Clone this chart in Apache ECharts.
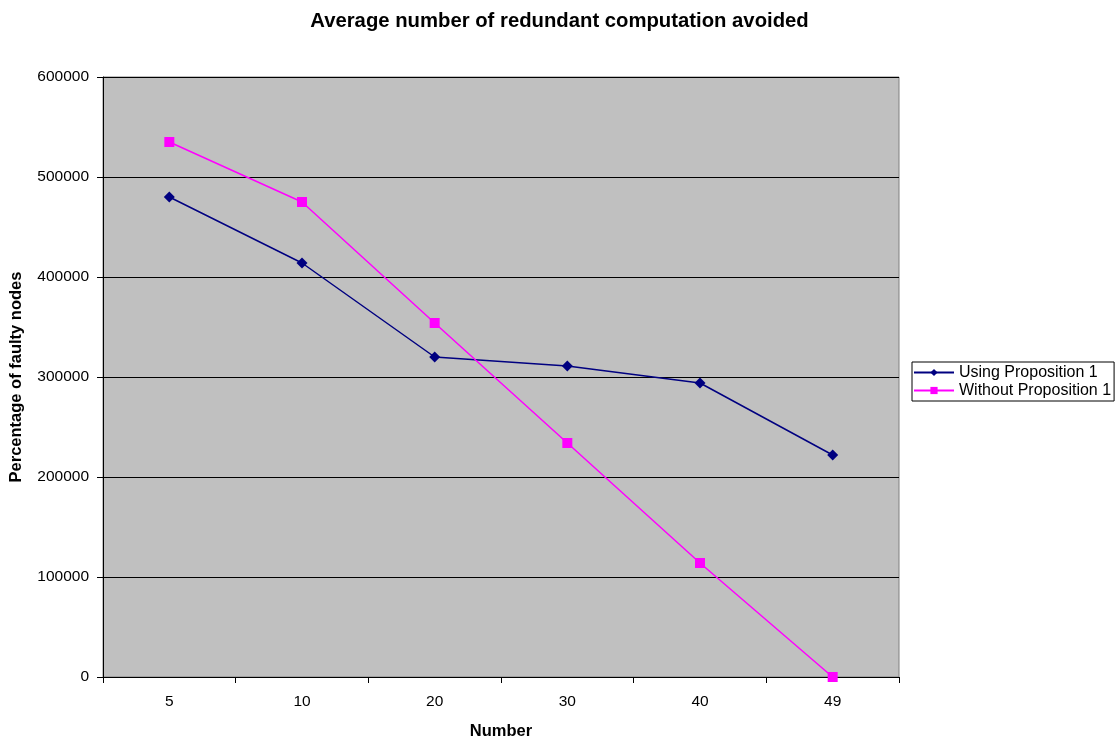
<!DOCTYPE html>
<html><head><meta charset="utf-8">
<script src="https://cdn.jsdelivr.net/npm/echarts@6/dist/echarts.min.js"></script>
<style>html,body{margin:0;padding:0;background:#fff}#c{width:1119px;height:742px}</style>
</head><body><div id="c"></div>
<script>
const categories = ['5', '10', '20', '30', '40', '49'];
const usingProp = [480000, 414000, 320000, 311000, 294000, 222000];
const withoutProp = [535000, 475000, 354000, 234000, 114000, 0];
const yTicks = [0, 100000, 200000, 300000, 400000, 500000, 600000];

const chart = echarts.init(document.getElementById('c'));
const font = 'Liberation Sans, Arial, sans-serif';
chart.setOption({
  animation: false,
  backgroundColor: '#fff',
  title: {
    text: 'Average number of redundant computation avoided',
    left: 'center', top: 6,
    textStyle: {fontFamily: font, fontSize: 20.3, fontWeight: 'bold', color: '#000'}
  },
  legend: {
    orient: 'vertical', left: 912, top: 362,
    borderColor: '#000', borderWidth: 1, padding: [2, 3, 2, 1],
    itemWidth: 40, itemHeight: 9, itemGap: 1,
    backgroundColor: '#fff',
    textStyle: {fontFamily: font, fontSize: 16, lineHeight: 17, color: '#000'},
    data: ['Using Proposition 1', 'Without Proposition 1']
  },
  grid: {
    left: 103, top: 77, width: 796, height: 600,
    outerBoundsMode: 'none', containLabel: false,
    show: true, backgroundColor: '#c0c0c0', borderColor: '#808080', borderWidth: 1
  },
  xAxis: {
    type: 'category', data: categories, boundaryGap: true,
    name: 'Number', nameLocation: 'middle', nameGap: 46,
    nameTextStyle: {fontFamily: font, fontSize: 16.5, fontWeight: 'bold', color: '#000'},
    axisLine: {lineStyle: {color: '#000', width: 1}},
    axisTick: {show: true, length: 6, inside: false, lineStyle: {color: '#000'}},
    axisLabel: {fontFamily: font, fontSize: 15.5, color: '#000', margin: 17},
    splitLine: {show: false}
  },
  yAxis: {
    type: 'value', min: 0, max: 600000, interval: 100000,
    name: 'Percentage of faulty nodes', nameLocation: 'middle', nameGap: 78,
    nameTextStyle: {fontFamily: font, fontSize: 16.5, fontWeight: 'bold', color: '#000'},
    axisLine: {show: true, lineStyle: {color: '#000', width: 1}},
    axisTick: {show: true, length: 6, lineStyle: {color: '#000'}},
    axisLabel: {fontFamily: font, fontSize: 15.5, color: '#000', margin: 14,
      formatter: v => yTicks.includes(v) ? String(v) : ''},
    splitLine: {show: true, lineStyle: {color: '#000', width: 1}}
  },
  series: [
    {
      name: 'Using Proposition 1', type: 'line', data: usingProp,
      symbol: 'diamond', symbolSize: 11,
      lineStyle: {color: '#000080', width: 1.5},
      itemStyle: {color: '#000080'}
    },
    {
      name: 'Without Proposition 1', type: 'line', data: withoutProp,
      symbol: 'rect', symbolSize: 10,
      lineStyle: {color: '#ff00ff', width: 1.5},
      itemStyle: {color: '#ff00ff'}
    }
  ]
});
</script></body></html>
